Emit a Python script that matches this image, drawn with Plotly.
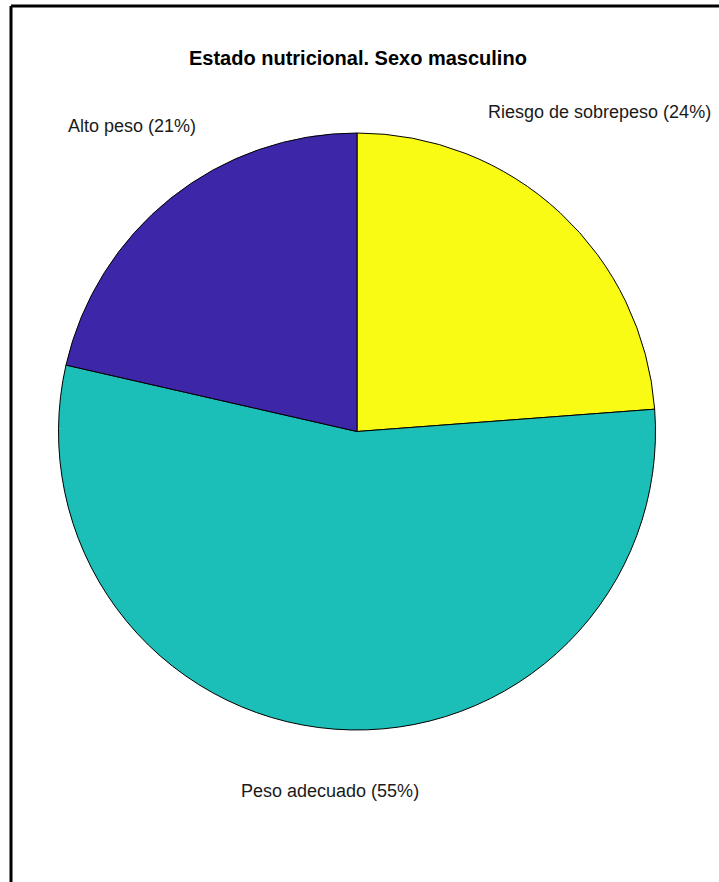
import plotly.graph_objects as go

# Data
categories = ["Riesgo de sobrepeso", "Peso adecuado", "Alto peso"]
counts = [10, 23, 9]
colors = ["#F9FB14", "#1BBFB7", "#3E26A8"]

W, H = 719, 882
total = sum(counts)
labels_txt = [f"{c} ({round(100 * v / total)}%)" for c, v in zip(categories, counts)]

def px(x):
    return x / W

def py(y):
    return 1 - y / H

fig = go.Figure(
    go.Pie(
        labels=categories,
        values=counts,
        sort=False,
        direction="clockwise",
        rotation=0,
        marker=dict(colors=colors, line=dict(color="black", width=1)),
        textinfo="none",
        hoverinfo="label+percent",
        domain=dict(x=[px(58), px(656)], y=[py(730), py(133)]),
        showlegend=False,
    )
)

label_pos = [(599, 112), (330, 791), (132, 126)]
anns = []
for txt, (x, y) in zip(labels_txt, label_pos):
    anns.append(dict(x=px(x), y=py(y), xref="paper", yref="paper", text=txt,
                     showarrow=False, xanchor="center", yanchor="middle",
                     font=dict(family="Liberation Sans, Arial", size=18, color="#1a1a1a")))
anns.append(dict(x=px(358), y=py(58), xref="paper", yref="paper",
                 text="<b>Estado nutricional. Sexo masculino</b>", showarrow=False,
                 xanchor="center", yanchor="middle",
                 font=dict(family="Liberation Sans, Arial", size=20, color="black")))

shapes = [
    dict(type="line", xref="paper", yref="paper", x0=px(11), x1=1.05, y0=py(6), y1=py(6),
         line=dict(color="black", width=3)),
    dict(type="line", xref="paper", yref="paper", x0=px(11), x1=px(11), y0=py(6), y1=-0.05,
         line=dict(color="black", width=3)),
]

fig.update_layout(
    width=W, height=H,
    margin=dict(l=0, r=0, t=0, b=0),
    paper_bgcolor="white", plot_bgcolor="white",
    annotations=anns, shapes=shapes,
)

fig.write_html("out.html")
